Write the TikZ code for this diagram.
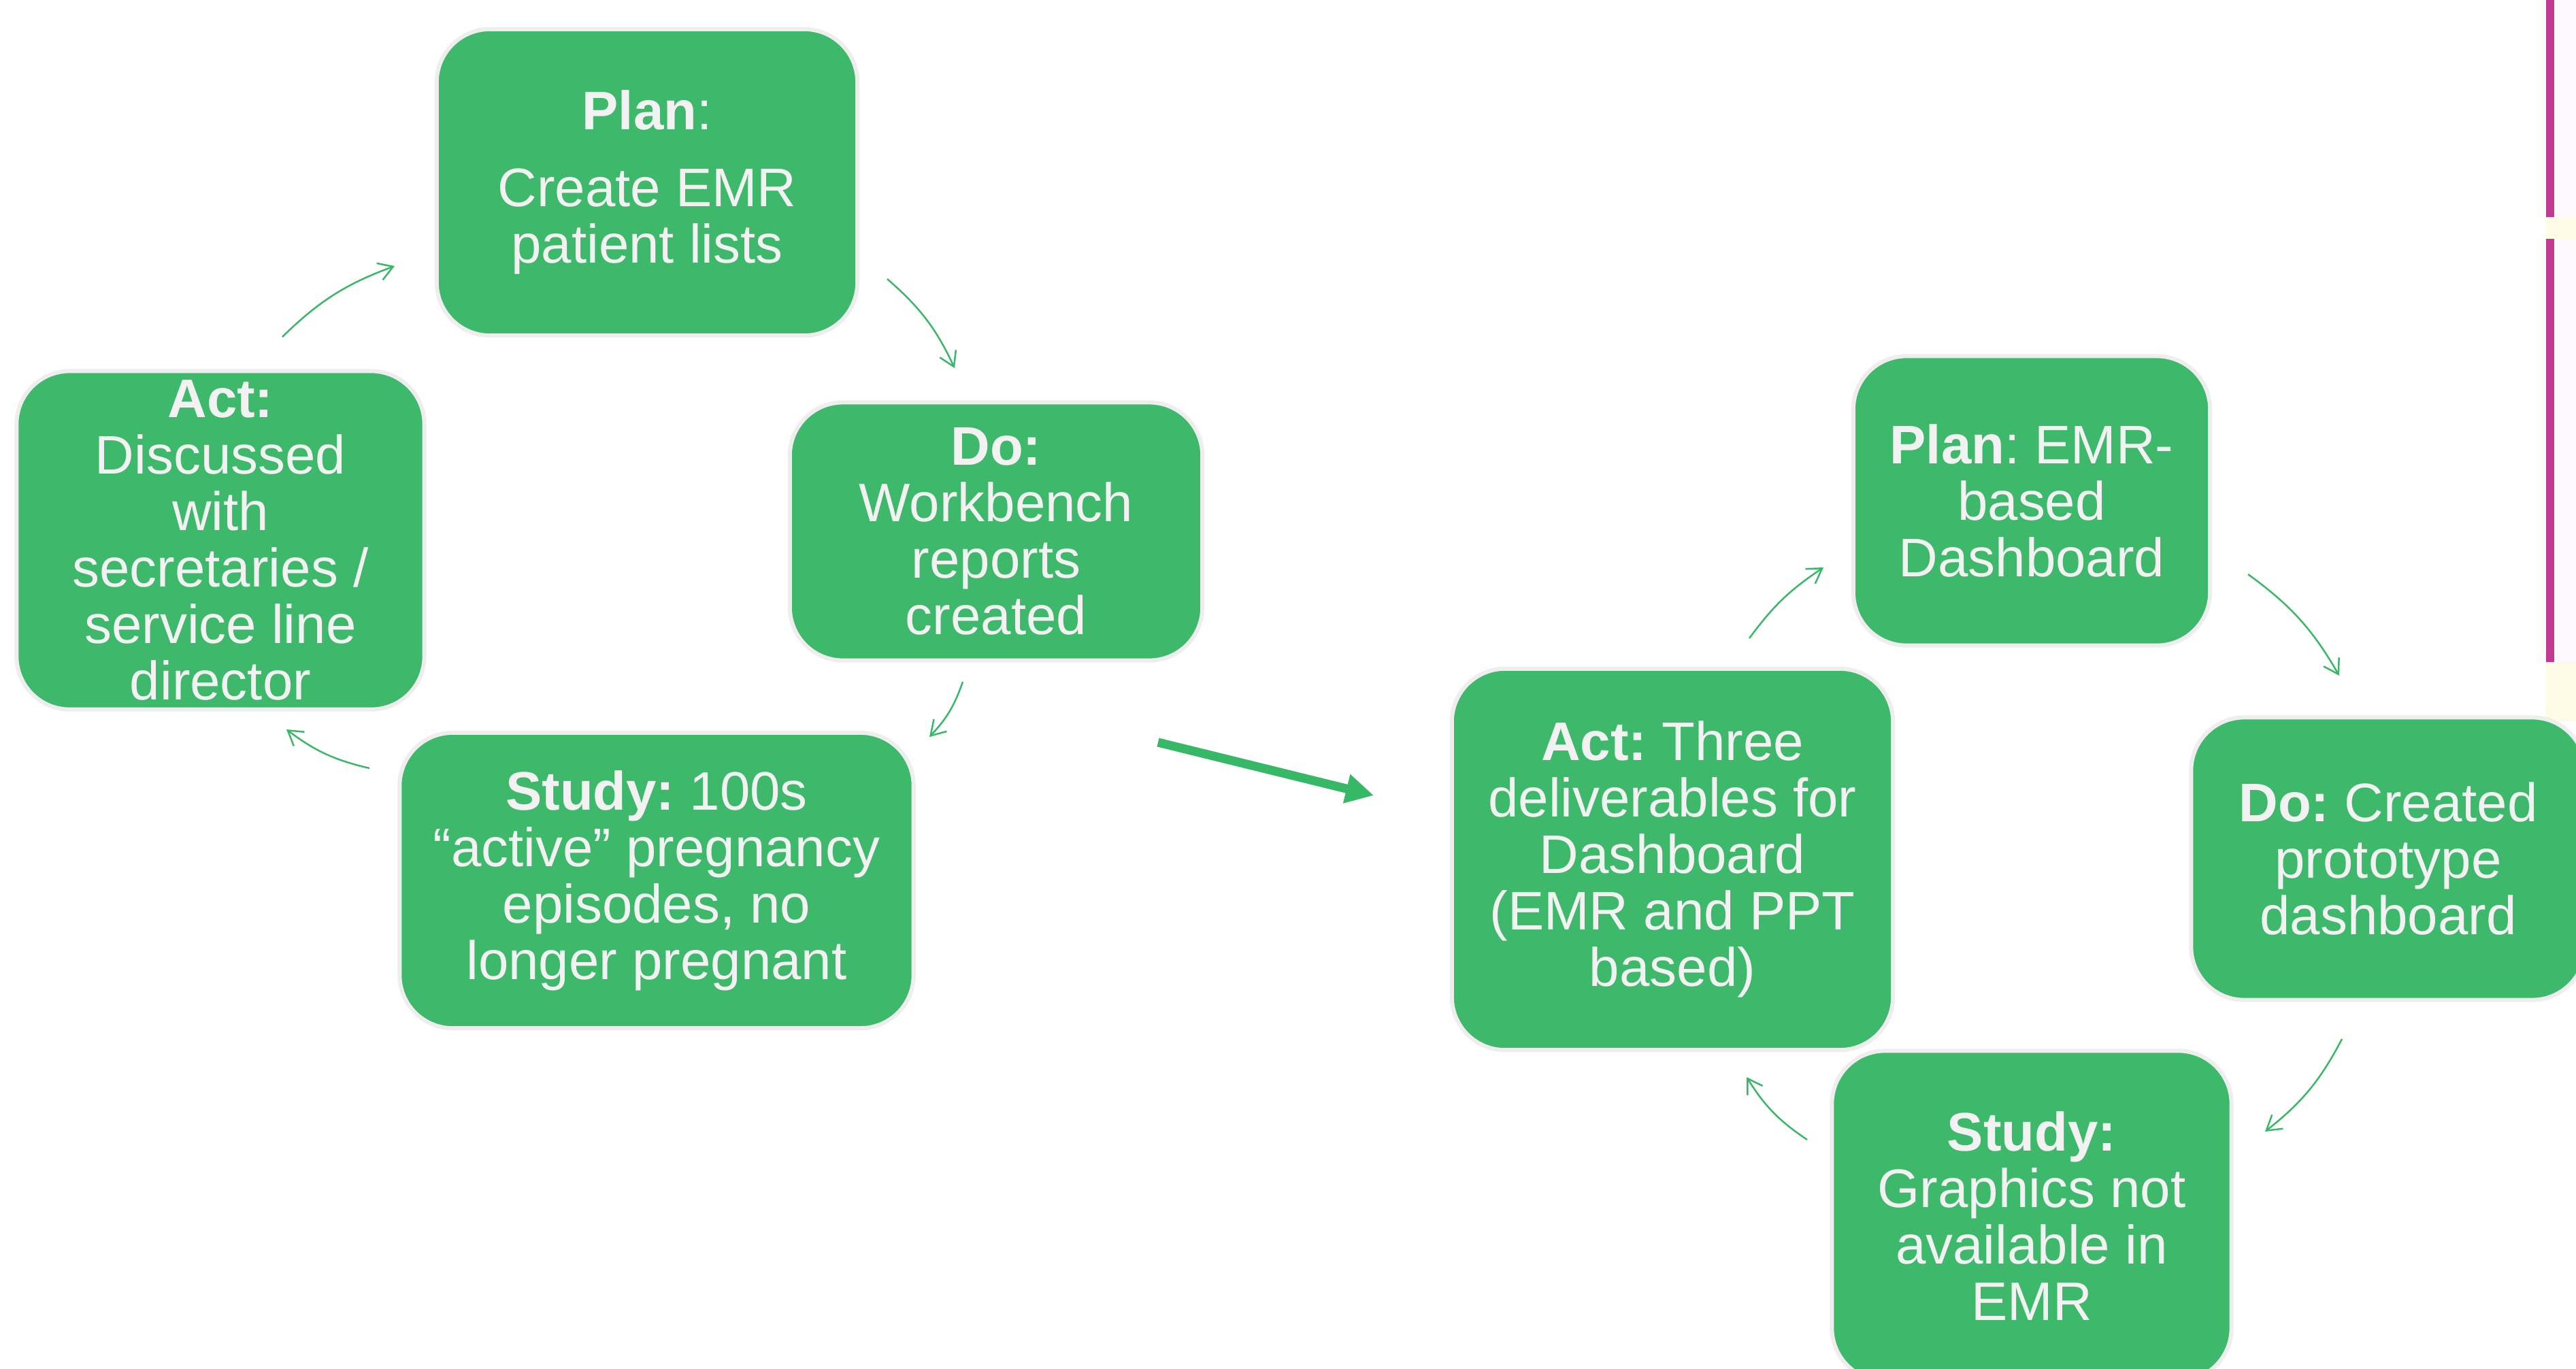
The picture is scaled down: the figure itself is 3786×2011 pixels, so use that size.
\documentclass[tikz,border=0pt]{standalone}
\usepackage{fontspec}
\setmainfont{Liberation Sans}
\usetikzlibrary{arrows.meta}
\frenchspacing

\definecolor{pdsagreen}{HTML}{3EB86A}
\definecolor{pdsaarrow}{HTML}{37B867}
\definecolor{pdsatext}{HTML}{F2F2F2}
\definecolor{pdsaedge}{HTML}{EEEEEE}
\definecolor{slidepink}{HTML}{C03A91}
\definecolor{slidecream}{HTML}{FDFBE6}
\definecolor{slidewhite}{HTML}{FDF9FC}

\tikzset{
  phase/.style={draw=pdsaedge, line width=0.6mm, fill=pdsagreen,
    text=pdsatext, rounded corners=0.78cm, align=center, inner sep=0pt,
    font=\fontsize{22.7pt}{23.6pt}\selectfont},
  cycle/.style={draw=pdsaarrow, line width=0.7pt,
    -{Straight Barb[length=2.1mm,width=2.6mm]}},
  nextcycle/.style={draw=pdsaarrow, line width=1.3mm,
    -{Triangle[length=4.1mm,width=4.1mm]}}
}

\begin{document}
\begin{tikzpicture}[x=0.01cm,y=-0.01cm]
  \clip (0,0) rectangle (3786,2011);
  \fill[white] (0,0) rectangle (3786,2011);

  % edge of the next slide
  \fill[slidecream] (3742,0) rectangle (3786,1060);
  \fill[slidewhite] (3754,0) rectangle (3786,319);
  \fill[slidewhite] (3754,351) rectangle (3786,973);
  \fill[slidepink] (3742,0) rectangle (3754,319);
  \fill[slidepink] (3742,351) rectangle (3754,973);

  % first cycle
  \node[phase, minimum width=6.18cm, minimum height=4.50cm] (planA) at (951,268)
    {\textbf{Plan}:\\[8.6pt] Create EMR\\ patient lists};
  \node[phase, minimum width=6.06cm, minimum height=3.79cm] (doA) at (1464,781)
    {\textbf{Do:}\\ Workbench\\ reports\\ created};
  \node[phase, minimum width=7.55cm, minimum height=4.34cm] (studyA) at (965,1294)
    {\textbf{Study:} 100s\\ “active” pregnancy\\ episodes, no\\ longer pregnant};
  \node[phase, minimum width=5.99cm, minimum height=4.97cm] (actA) at (324,794)
    {\textbf{Act:}\\ Discussed\\ with\\ secretaries /\\ service line\\ director};

  % second cycle
  \node[phase, minimum width=5.24cm, minimum height=4.25cm] (planB) at (2986,736)
    {\textbf{Plan}: EMR-\\ based\\ Dashboard};
  \node[phase, minimum width=5.79cm, minimum height=4.15cm] (doB) at (3510,1262)
    {\textbf{Do:} Created\\ prototype\\ dashboard};
  \node[phase, minimum width=5.87cm, minimum height=4.85cm] (studyB) at (2986,1787)
    {\textbf{Study:}\\ Graphics not\\ available in\\ EMR};
  \node[phase, minimum width=6.48cm, minimum height=5.60cm] (actB) at (2458,1263)
    {\textbf{Act:} Three\\ deliverables for\\ Dashboard\\ (EMR and PPT\\ based)};

  % arrow ends
  \coordinate (actA-out) at (415,495);    \coordinate (planA-in) at (580,391);
  \coordinate (planA-out) at (1304,410);  \coordinate (doA-in) at (1403,541);
  \coordinate (doA-out) at (1415,1002);   \coordinate (studyA-in) at (1366,1083);
  \coordinate (studyA-out) at (543,1129); \coordinate (actA-in) at (421,1072);
  \coordinate (actB-out) at (2571,938);   \coordinate (planB-in) at (2680,834);
  \coordinate (planB-out) at (3304,844);  \coordinate (doB-in) at (3438,993);
  \coordinate (doB-out) at (3442,1527);   \coordinate (studyB-in) at (3329,1663);
  \coordinate (studyB-out) at (2656,1675);\coordinate (actB-in) at (2567,1583);
  \coordinate (jump-out) at (1702,1091);  \coordinate (jump-in) at (2019,1169);

  \draw[cycle] (actA-out) to[bend left=12] (planA-in);
  \draw[cycle] (planA-out) to[bend left=12] (doA-in);
  \draw[cycle] (doA-out) to[bend left=12] (studyA-in);
  \draw[cycle] (studyA-out) to[bend left=12] (actA-in);
  \draw[cycle] (actB-out) to[bend left=10] (planB-in);
  \draw[cycle] (planB-out) to[bend left=12] (doB-in);
  \draw[cycle] (doB-out) to[bend left=12] (studyB-in);
  \draw[cycle] (studyB-out) to[bend left=12] (actB-in);

  \draw[nextcycle] (jump-out) -- (jump-in);
\end{tikzpicture}
\end{document}
